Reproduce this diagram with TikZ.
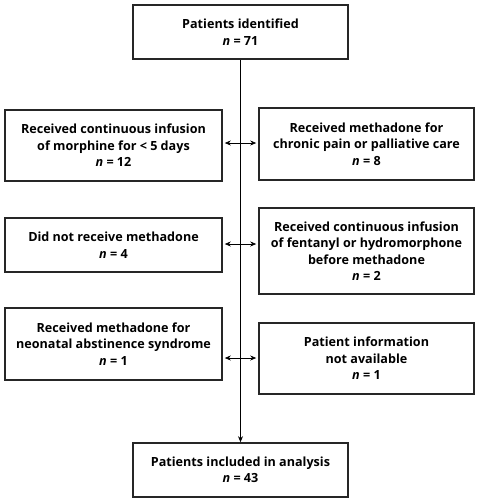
\documentclass[tikz,border=0pt]{standalone}
\usepackage{fontspec}
\setmainfont{Open Sans}
\usetikzlibrary{arrows.meta}
\begin{document}
\begin{tikzpicture}[x=1pt,y=-1pt,
  box/.style={draw=black!85,line width=1.6pt,inner sep=0pt,align=center,font=\bfseries\fontsize{12.6}{16.5}\selectfont},
  conn/.style={line width=0.7pt,-{Stealth[length=6pt,width=5pt]}},
  dconn/.style={line width=0.7pt,{Stealth[length=6pt,width=5pt]}-{Stealth[length=6pt,width=5pt]}}]
\useasboundingbox (0,0) rectangle (481,504);
\node[box,minimum width=215pt,minimum height=54pt] (top) at (240.5,32) {Patients identified\\\textit{n} = 71};
\node[box,minimum width=215pt,minimum height=54pt] (bot) at (240.5,470) {Patients included in analysis\\\textit{n} = 43};
\node[box,minimum width=217pt,minimum height=71pt] (l1) at (113.5,145.5) {Received continuous infusion\\of morphine for < 5 days\\\textit{n} = 12};
\node[box,minimum width=215pt,minimum height=72pt] (r1) at (366.5,144) {Received methadone for\\chronic pain or palliative care\\\textit{n} = 8};
\node[box,minimum width=217pt,minimum height=54pt] (l2) at (113.5,245) {Did not receive methadone\\\textit{n} = 4};
\node[box,minimum width=215pt,minimum height=86pt] (r2) at (366.5,251) {Received continuous infusion\\of fentanyl or hydromorphone\\before methadone\\\textit{n} = 2};
\node[box,minimum width=217pt,minimum height=72pt] (l3) at (113.5,344) {Received methadone for\\neonatal abstinence syndrome\\\textit{n} = 1};
\node[box,minimum width=215pt,minimum height=71pt] (r3) at (366.5,358.5) {Patient information\\not available\\\textit{n} = 1};
\coordinate (a1) at (0,143);
\coordinate (a2) at (0,244);
\coordinate (a3) at (0,358);
\draw[conn] (top.south) -- (bot.north);
\draw[dconn] ([xshift=2pt]l1.east |- a1) -- ([xshift=-2pt]r1.west |- a1);
\draw[dconn] ([xshift=2pt]l2.east |- a2) -- ([xshift=-2pt]r2.west |- a2);
\draw[dconn] ([xshift=2pt]l3.east |- a3) -- ([xshift=-2pt]r3.west |- a3);
\end{tikzpicture}
\end{document}
